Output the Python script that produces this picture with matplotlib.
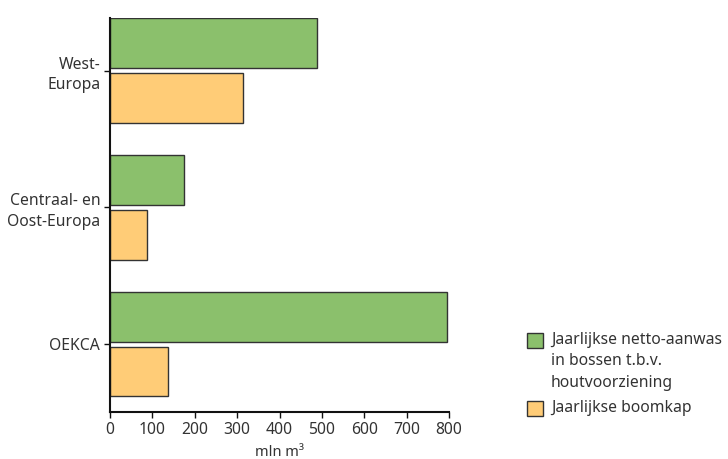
import numpy as np
import matplotlib
matplotlib.use("Agg")
import matplotlib.pyplot as plt
from matplotlib.patches import Rectangle

regions = ["West-\nEuropa", "Centraal- en\nOost-Europa", "OEKCA"]
netto_aanwas = [488, 175, 795]
boomkap = [314, 87, 137]
xticks = [0, 100, 200, 300, 400, 500, 600, 700, 800]

green = "#8bc06c"
orange = "#ffcc77"
edge = "#333333"
txt = "#333333"

plt.rcParams["font.family"] = ["Noto Sans", "DejaVu Sans"]

fig = plt.figure(figsize=(7.28, 4.59), dpi=100)
ax = fig.add_axes([0.151, 0.1024, 0.466, 0.859])

y = np.arange(len(regions))
h = 0.365
off = 0.2
ax.barh(y - off, netto_aanwas, height=h, color=green, edgecolor=edge, linewidth=1)
ax.barh(y + off, boomkap, height=h, color=orange, edgecolor=edge, linewidth=1)

ax.set_ylim(2.496, -0.387)
ax.set_xlim(0, 800)
ax.set_yticks(y)
ax.set_yticklabels(regions, fontsize=11.3, color=txt, ha="right", linespacing=1.4)
ax.set_xticks(xticks)
ax.set_xticklabels([str(v) for v in xticks], fontsize=11.3, color=txt)
ax.set_xlabel("mln m³", fontsize=10.5, color=txt, labelpad=5)

for s in ["top", "right"]:
    ax.spines[s].set_visible(False)
for s in ["left", "bottom"]:
    ax.spines[s].set_linewidth(1.5)
    ax.spines[s].set_color("#111111")
ax.tick_params(axis="both", length=4, width=1, color="#111111", pad=3)

# legend drawn by hand so the patch lines up with the first text line
lx, lw, lh = 527 / 728, 16 / 728, 15 / 459
items = [(green, "Jaarlijkse netto-aanwas\nin bossen t.b.v.\nhoutvoorziening", 1 - 348 / 459),
         (orange, "Jaarlijkse boomkap", 1 - 416 / 459)]
for col, label, yb in items:
    fig.add_artist(Rectangle((lx, yb), lw, lh, transform=fig.transFigure,
                             facecolor=col, edgecolor=edge, linewidth=1))
    fig.text(551 / 728, yb + lh + 0.002, label, fontsize=11.3, color=txt,
             va="top", ha="left", linespacing=1.45)

fig.savefig("out.png", dpi=100)
